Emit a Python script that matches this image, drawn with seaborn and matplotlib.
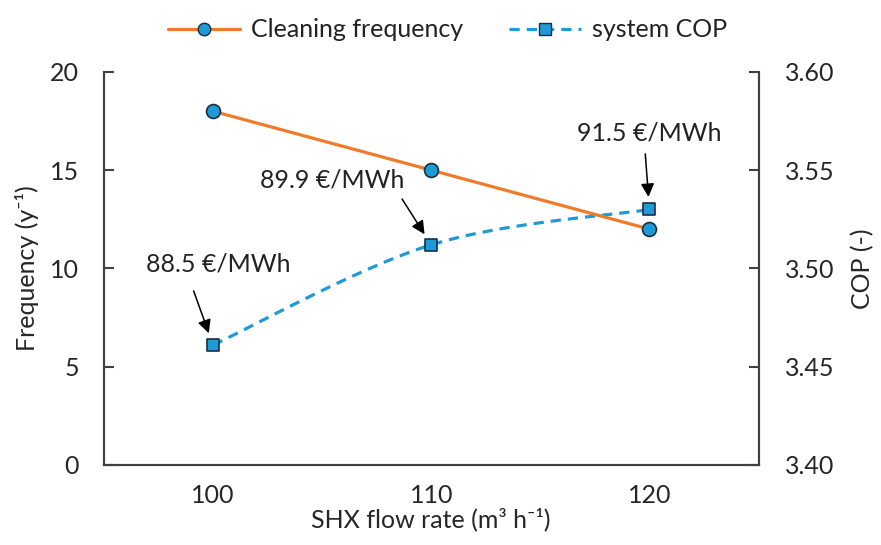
import numpy as np
import seaborn as sns
import matplotlib.pyplot as plt
from matplotlib.lines import Line2D

# data
flow_rates = ["100", "110", "120"]
cleaning_freq = [18.0, 15.0, 12.0]
system_cop = [3.461, 3.512, 3.530]
cost_labels = ["88.5 €/MWh", "89.9 €/MWh", "91.5 €/MWh"]

ORANGE = "#F07B2A"
BLUE = "#1E9AD6"
EDGE = "#1C2E3E"
AXIS = "#404040"

sns.set_style("white")
plt.rcParams["font.family"] = ["Lato", "DejaVu Sans"]
plt.rcParams["font.size"] = 18
plt.rcParams["text.color"] = "#222222"


def smooth_curve(xs, ys, n=60):
    # Excel-style smoothed line: Catmull-Rom through the points
    xs, ys = np.asarray(xs, float), np.asarray(ys, float)
    px = np.concatenate([[xs[0]], xs, [xs[-1]]])
    py = np.concatenate([[ys[0]], ys, [ys[-1]]])
    outx, outy = [], []
    for i in range(1, len(px) - 2):
        t = np.linspace(0, 1, n)
        for p, out in ((px, outx), (py, outy)):
            p0, p1, p2, p3 = p[i - 1], p[i], p[i + 1], p[i + 2]
            m1 = (p2 - p0) / 2
            m2 = (p3 - p1) / 2
            h00 = 2 * t**3 - 3 * t**2 + 1
            h10 = t**3 - 2 * t**2 + t
            h01 = -2 * t**3 + 3 * t**2
            h11 = t**3 - t**2
            out.extend(h00 * p1 + h10 * m1 + h01 * p2 + h11 * m2)
    return np.array(outx), np.array(outy)


pos = np.arange(len(flow_rates))

fig = plt.figure(figsize=(8.81, 5.45), dpi=100)
ax = fig.add_axes([0.118, 0.147, 0.743, 0.721])
ax2 = ax.twinx()

# secondary axis: system COP (smoothed dashed line + square markers)
cx, cy = smooth_curve(pos, system_cop)
sns.lineplot(x=cx, y=cy, ax=ax2, color=BLUE, lw=2.3, linestyle=(0, (3.2, 2.2)),
             sort=False, estimator=None)
sns.scatterplot(x=pos, y=system_cop, ax=ax2, marker="s", s=85, color=BLUE,
                edgecolor=EDGE, linewidth=1.2, zorder=5)

# primary axis: cleaning frequency
sns.lineplot(x=pos, y=cleaning_freq, ax=ax, color=ORANGE, lw=2.3, zorder=3)
sns.scatterplot(x=pos, y=cleaning_freq, ax=ax, marker="o", s=100, color=BLUE,
                edgecolor=EDGE, linewidth=1.2, zorder=4)

ax.set_zorder(ax2.get_zorder() + 1)
ax.patch.set_visible(False)

ax.set_xlim(-0.5, 2.5)
ax.set_ylim(0, 20)
ax.set_yticks([0, 5, 10, 15, 20])
ax2.set_ylim(3.40, 3.60)
ax2.set_yticks([3.40, 3.45, 3.50, 3.55, 3.60])
ax2.set_yticklabels([f"{v:.2f}" for v in ax2.get_yticks()])
ax.set_xticks(pos)
ax.set_xticklabels(flow_rates)

ax.set_xlabel("SHX flow rate (m³ h⁻¹)", labelpad=0)
ax.set_ylabel("Frequency (y⁻¹)", labelpad=8)
ax2.set_ylabel("COP (-)", labelpad=12)

for a in (ax, ax2):
    for s in a.spines.values():
        s.set_color(AXIS)
        s.set_linewidth(1.5)
    a.spines["top"].set_visible(False)
    a.tick_params(direction="in", length=7, width=1.5, color=AXIS, pad=18)
ax.tick_params(axis="x", pad=14)
ax2.tick_params(axis="y", pad=19)

# cost annotations above the COP points
text_off = [(4, 58), (-71, 47), (0, 55)]
arrow_off = [(-14, 39), (-21, 33), (-3, 40)]
for i, lab in enumerate(cost_labels):
    ax2.annotate(lab, xy=(pos[i], system_cop[i]), xytext=text_off[i],
                 textcoords="offset points", ha="center", va="center")
    ax2.annotate("", xy=(pos[i], system_cop[i]), xytext=arrow_off[i],
                 textcoords="offset points",
                 arrowprops=dict(arrowstyle="-|>", color="black", lw=1.1,
                                 mutation_scale=20, shrinkA=0, shrinkB=9))

handles = [
    Line2D([], [], color=ORANGE, lw=2.3, marker="o", markersize=9,
           markerfacecolor=BLUE, markeredgecolor=EDGE),
    Line2D([], [], color=BLUE, lw=2.3, linestyle=(0, (3.2, 2.2)), marker="s",
           markersize=8, markerfacecolor=BLUE, markeredgecolor=EDGE),
]
fig.legend(handles, ["Cleaning frequency", "system COP"], loc="center",
           bbox_to_anchor=(0.508, 0.945), ncol=2, frameon=False,
           handlelength=2.9, handletextpad=0.45, columnspacing=1.8)

fig.savefig("out.png", dpi=100)
